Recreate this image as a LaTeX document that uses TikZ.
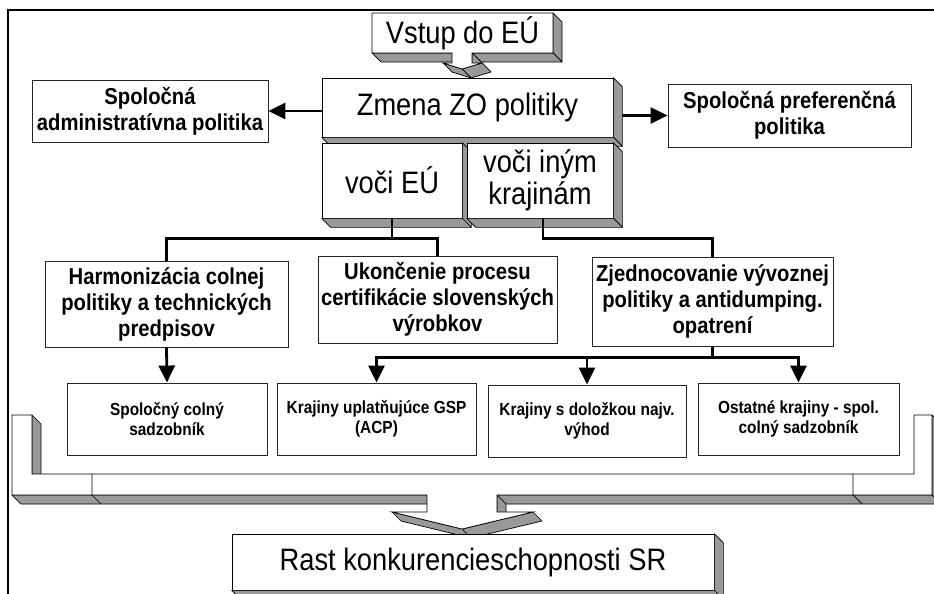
\documentclass[tikz,border=0pt]{standalone}
\usepackage{fontspec}
\setmainfont{Liberation Sans}[FakeStretch=0.88]
\usetikzlibrary{arrows.meta,calc}
\tikzset{
  face/.style={fill=black!40, draw=black, line width=0.7pt, line join=round},
  frontface/.style={fill=white, draw=black, line width=0.7pt},
  plainbox/.style={draw=black!85, fill=white, line width=0.9pt, align=center, inner sep=1pt, font=\bfseries\fontsize{23}{26}\selectfont},
  smallbox/.style={plainbox, font=\bfseries\fontsize{17.5}{20}\selectfont},
  bigbox/.style={frontface, align=center, inner sep=0pt, font=\fontsize{31}{32}\selectfont},
  bigtext/.style={align=center, inner sep=0pt, font=\fontsize{31}{32}\selectfont},
  conn/.style={draw=black, line width=2.8pt},
  arr/.style={conn, -{Triangle[length=17pt,width=16pt]}},
}
\newcommand{\extrude}[1]{%
  \path[face] (#1.north east) -- ($(#1.north east)+(9,9)$) -- ($(#1.south east)+(9,9)$) -- (#1.south east) -- cycle;
  \path[face] (#1.south west) -- (#1.south east) -- ($(#1.south east)+(9,9)$) -- ($(#1.south west)+(9,9)$) -- cycle;}
\begin{document}
\begin{tikzpicture}[x=1pt,y=-1pt]
\useasboundingbox (0,0) rectangle (934,594);
\fill[white] (0,0) rectangle (934,594);
% outer frame
\draw[line width=1.6pt] (8,600) -- (8,10) -- (940,10);

% top callout "Vstup do EU"
\path[face] (553,13) -- (562,22) -- (562,62) -- (553,53) -- cycle;
\path[face] (472,53) -- (553,53) -- (562,62) -- (481,62) -- cycle;
\path[face] (372,53) -- (452,53) -- (461,62) -- (381,62) -- cycle;
\path[face] (472,53) -- (481,62) -- (481,72) -- (472,63) -- cycle;
\path[face] (482,63) -- (491,72) -- (471,78) -- (462,69) -- cycle;
\path[face] (462,69) -- (471,78) -- (452,72) -- (443,63) -- cycle;
\path[frontface] (372,13) -- (553,13) -- (553,53) -- (472,53) -- (472,63) -- (482,63) -- (462,69) -- (443,63) -- (452,63) -- (452,53) -- (372,53) -- cycle;
\node[bigtext] (vstup) at (462.5,33) {Vstup do EÚ};

% central boxes
\node[bigbox, minimum width=291pt, minimum height=59pt] (zmena) at (467.5,107.5) {Zmena ZO politiky};
\extrude{zmena}
\node[bigbox, minimum width=140pt, minimum height=75pt] (vociEU) at (392,180.5) {voči EÚ};
\extrude{vociEU}
\node[bigbox, minimum width=146pt, minimum height=75pt] (vociIne) at (540,180.5) {voči iným\\krajinám};
\extrude{vociIne}

% side boxes
\node[plainbox, minimum width=236pt, minimum height=62pt] (admin) at (150,111) {Spoločná\\administratívna politika};
\node[plainbox, minimum width=243pt, minimum height=63pt] (pref) at (789.5,115.5) {Spoločná preferenčná\\politika};

% middle row
\node[plainbox, minimum width=243pt, minimum height=86pt] (harm) at (166.5,304) {Harmonizácia colnej\\politiky a technických\\predpisov};
\node[plainbox, minimum width=239pt, minimum height=87pt] (ukon) at (437.5,299.5) {Ukončenie procesu\\certifikácie slovenských\\výrobkov};
\node[plainbox, minimum width=241pt, minimum height=89pt] (zjed) at (712.5,301.5) {Zjednocovanie vývoznej\\politiky a antidumping.\\opatrení};

% bottom row
\node[smallbox, minimum width=200pt, minimum height=72pt] (spolColny) at (167,419) {Spoločný colný\\sadzobník};
\node[smallbox, minimum width=199pt, minimum height=72pt] (gsp) at (376.5,419) {Krajiny uplatňujúce GSP\\(ACP)};
\node[smallbox, minimum width=198pt, minimum height=72pt] (dolozka) at (587,421) {Krajiny s doložkou najv.\\výhod};
\node[smallbox, minimum width=201pt, minimum height=72pt] (ostatne) at (798.5,419) {Ostatné krajiny - spol.\\colný sadzobník};

% bracket with bottom callout
\path[face] (32,415) -- (41,424) -- (41,483) -- (32,474) -- cycle;
\path[face] (12,495) -- (427,495) -- (436,504) -- (21,504) -- cycle;
\path[face] (497,495) -- (932,495) -- (941,504) -- (506,504) -- cycle;
\path[face] (932,415) -- (941,424) -- (941,504) -- (932,495) -- cycle;
\path[face] (497,495) -- (506,504) -- (506,521) -- (497,512) -- cycle;
\path[face] (533,512) -- (542,521) -- (471,538) -- (462,529) -- cycle;
\path[face] (462,529) -- (471,538) -- (401,521) -- (392,512) -- cycle;
\path[frontface] (12,415) -- (32,415) -- (32,474) -- (914,474) -- (914,415) -- (932,415) -- (932,495) -- (497,495) -- (497,512) -- (533,512) -- (462,529) -- (392,512) -- (427,512) -- (427,495) -- (12,495) -- cycle;
\draw[line width=0.7pt] (92,474) -- (92,495) -- (101,504);
\draw[line width=0.7pt] (853,474) -- (853,495) -- (862,504);

% result box
\node[bigbox, minimum width=482pt, minimum height=56pt] (rast) at (473,562) {Rast konkurencieschopnosti SR};
\extrude{rast}

% connectors
\draw[arr] (zmena.west |- admin.east) -- (admin.east);
\coordinate (zr) at ($(zmena.east)+(9,0)$);
\draw[arr] (zr |- pref.west) -- (pref.west);

\coordinate (j1) at ($(vociEU.south)+(0,20)$);
\draw[conn] (vociEU.south) -- (j1);
\draw[conn] (harm.north) |- (j1) -| (ukon.north);

\coordinate (j2) at ($(vociIne.south)+(3,20)$);
\draw[conn] ($(vociIne.south)+(3,0)$) -- (j2) -| (zjed.north);

\draw[arr] (harm.south) -- (spolColny.north);

\coordinate (bar) at ($(zjed.south)+(0,11)$);
\draw[conn] (zjed.south) -- (bar);
\draw[arr] (bar) -| (gsp.north);
\draw[arr] (bar) -| (dolozka.north);
\draw[arr] (bar) -| (ostatne.north);
\end{tikzpicture}
\end{document}
